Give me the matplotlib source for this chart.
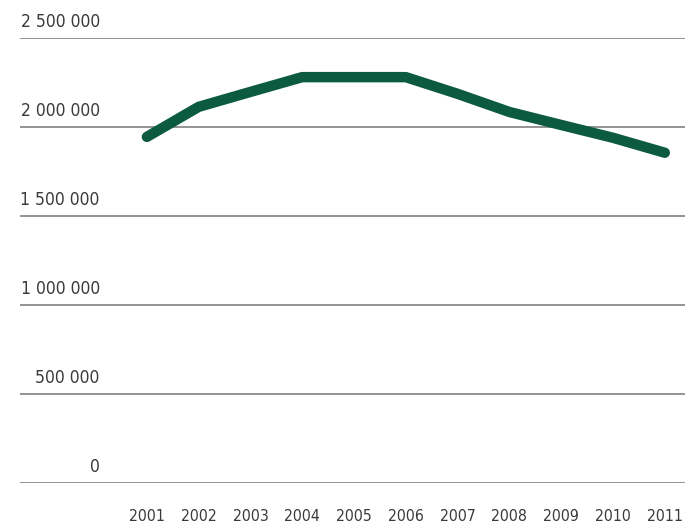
import matplotlib
matplotlib.use("Agg")
import matplotlib.pyplot as plt

plt.rcParams['font.family'] = ['DejaVu Sans']
plt.rcParams['font.stretch'] = 'condensed'

years = [2001, 2002, 2003, 2004, 2005, 2006, 2007, 2008, 2009, 2010, 2011]
values = [1944000, 2113000, 2197000, 2280000, 2280000, 2280000, 2186000, 2084000, 2011000, 1939000, 1855000]
ytick_vals = [0, 500000, 1000000, 1500000, 2000000, 2500000]
ytick_labels = ["0", "500 000", "1 000 000", "1 500 000", "2 000 000", "2 500 000"]

fig = plt.figure(figsize=(6.85, 5.26), dpi=100)
ax = fig.add_axes([20 / 685, 1 - 482.7 / 526, 665 / 685, (482.7 - 38) / 526])

for v in ytick_vals:
    ax.axhline(v, color='#8a8a8a', lw=1.3, zorder=1)

ax.plot(years, values, color='#0c5a3f', lw=7.5, solid_capstyle='round',
        solid_joinstyle='round', zorder=3)

for v, lab in zip(ytick_vals, ytick_labels):
    ax.annotate(lab, xy=(0.12, v), xycoords=('axes fraction', 'data'),
                xytext=(0, 16), textcoords='offset pixels',
                ha='right', va='center', fontsize=12.5, color='#3a3a3a')

ax.set_xlim(1998.55, 2011.39)
ax.set_ylim(0, 2500000)
ax.set_xticks(years)
ax.set_xticklabels([str(y) for y in years], fontsize=11.3, color='#3a3a3a')
ax.tick_params(axis='x', length=0, pad=19)
ax.set_yticks([])
for s in ax.spines.values():
    s.set_visible(False)

fig.savefig("out.png", dpi=100)
